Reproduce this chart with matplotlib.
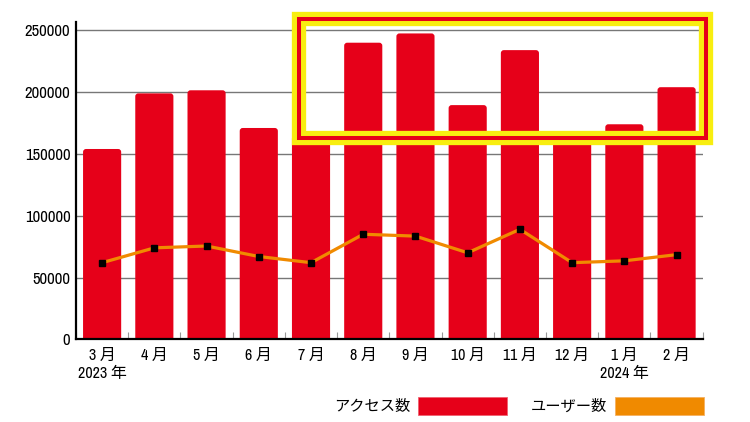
import matplotlib
matplotlib.use("Agg")
import matplotlib.pyplot as plt
from matplotlib.patches import Rectangle, Patch, FancyBboxPatch
import numpy as np

months = ["3 月\n2023 年", "4 月", "5 月", "6 月", "7 月", "8 月", "9 月",
          "10 月", "11 月", "12 月", "1 月\n2024 年", "2 月"]
access = [154000, 199000, 201500, 171000, 165000, 240000, 247500,
          189500, 234000, 165000, 174000, 204000]
users = [62000, 74000, 75500, 67000, 62000, 85000, 83500,
         70000, 89000, 62000, 63500, 68500]
yticks = [0, 50000, 100000, 150000, 200000, 250000]
legend_labels = ["アクセス数", "ユーザー数"]

RED = "#E60019"
ORANGE = "#F08A00"
YELLOW = "#F8EE10"

plt.rcParams['font.family'] = ['Archivo Narrow', 'PT Sans Narrow', 'Liberation Sans Narrow',
                               'Noto Sans CJK JP', 'DejaVu Sans']

W, H = 750, 422
YMAX = 257000
fig = plt.figure(figsize=(7.5, 4.22), dpi=100)
ax_w_px, ax_h_px = 702.7 - 76, 339.3 - 21.7
ax = fig.add_axes([76 / W, 1 - 339.3 / H, ax_w_px / W, ax_h_px / H])

x = np.arange(len(months))
bars = ax.bar(x, access, width=0.73, color=RED, zorder=2)

# round the bar tops slightly
xu_per_px = len(months) / ax_w_px
yu_per_px = YMAX / ax_h_px
r_px = 3.0
for b in bars:
    bx, by, bw, bh = b.get_x(), b.get_y(), b.get_width(), b.get_height()
    ext = 10 * yu_per_px
    fb = FancyBboxPatch((bx, by - ext), bw, bh + ext,
                        boxstyle=f"round,pad=0,rounding_size={r_px * xu_per_px}",
                        mutation_aspect=yu_per_px / xu_per_px,
                        facecolor=RED, edgecolor='none', zorder=2)
    ax.add_patch(fb)
    b.set_visible(False)

ax.plot(x, users, color=ORANGE, lw=2.3, marker='s', markersize=5,
        markerfacecolor='black', markeredgecolor='black', zorder=3)

ax.set_xlim(-0.5, len(months) - 0.5)
ax.set_ylim(0, YMAX)
ax.set_yticks(yticks)
ax.set_yticklabels([str(v) for v in yticks], fontsize=12)
ax.tick_params(axis='y', length=0, pad=4)
ax.yaxis.grid(True, color='#777777', lw=1.0, zorder=1)
ax.set_axisbelow(True)

ax.set_xticks(x)
ax.set_xticklabels(months, fontsize=11.5, linespacing=1.3)
ax.tick_params(axis='x', which='major', length=0, pad=6)
ax.set_xticks(np.arange(-0.5, len(months), 1.0), minor=True)
ax.tick_params(axis='x', which='minor', direction='in', length=5, width=0.8, color='#999999')

for s in ['top', 'right']:
    ax.spines[s].set_visible(False)
for s in ['left', 'bottom']:
    ax.spines[s].set_linewidth(1.6)
    ax.spines[s].set_color('black')
    ax.spines[s].set_zorder(4)

# highlight box
x0, x1 = 299 / W, 705.5 / W
y0, y1 = 1 - 138 / H, 1 - 18.8 / H
fig.patches.append(Rectangle((x0, y0), x1 - x0, y1 - y0, transform=fig.transFigure,
                             fill=False, edgecolor=YELLOW, lw=10.3, joinstyle='miter', zorder=10))
fig.patches.append(Rectangle((x0, y0), x1 - x0, y1 - y0, transform=fig.transFigure,
                             fill=False, edgecolor=RED, lw=2.9, joinstyle='miter', zorder=11))

handles = [Patch(facecolor=RED, edgecolor='#F06070', lw=0.6),
           Patch(facecolor=ORANGE, edgecolor='#F5B060', lw=0.6)]
fig.legend(handles, legend_labels, loc='center right', ncol=2, markerfirst=False,
           frameon=False, fontsize=11, handlelength=5.8, handleheight=1.4,
           handletextpad=0.5, columnspacing=1.6, borderpad=0, borderaxespad=0,
           bbox_to_anchor=(703.5 / W, 1 - 406 / H), bbox_transform=fig.transFigure)

fig.savefig("out.png", dpi=100)
